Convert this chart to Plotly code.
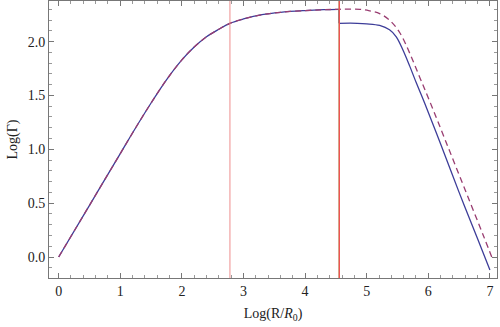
import plotly.graph_objects as go

# shared rising branch (log R/R0 -> log Gamma)
rise_x = [0, 0.5, 1.0, 1.25, 1.5, 1.75, 2.0, 2.2, 2.4, 2.6, 2.78, 3.0, 3.3, 3.6, 4.0, 4.3, 4.55]
rise_y = [0, 0.48, 0.96, 1.2, 1.43, 1.645, 1.83, 1.95, 2.045, 2.115, 2.17, 2.21, 2.25, 2.272, 2.288, 2.296, 2.30]

# solid branch after the step
solid_x = [4.55, 4.85, 5.0, 5.21, 5.37, 5.48, 5.59, 5.70, 5.81, 5.94, 6.2, 6.5, 6.8, 7.0]
solid_y = [2.17, 2.17, 2.165, 2.15, 2.11, 2.045, 1.92, 1.77, 1.61, 1.43, 1.05, 0.6, 0.17, -0.12]

# dashed branch after the step
dash_x = [4.55, 4.89, 5.05, 5.21, 5.37, 5.54, 5.70, 5.86, 6.02, 6.3, 6.6, 6.9, 7.05]
dash_y = [2.30, 2.30, 2.285, 2.26, 2.20, 2.08, 1.89, 1.67, 1.45, 1.05, 0.62, 0.19, -0.03]

# vertical marker lines: (position, colour, width)
markers = [(2.78, "rgba(236,130,130,0.9)", 1), (4.545, "rgba(120,190,80,0.5)", 1), (4.555, "rgb(240,80,80)", 1.4)]

blue = "rgb(61,61,153)"
purple = "rgb(153,61,113)"
font = "Liberation Serif, Times New Roman, serif"

fig = go.Figure()
for xv, col, w in markers:
    fig.add_vline(x=xv, line=dict(color=col, width=w))

# solid curve: rise, step down, fall
fig.add_trace(go.Scatter(x=rise_x, y=rise_y, mode="lines", line_shape="spline",
                         line=dict(color=blue, width=1.3), showlegend=False))
fig.add_trace(go.Scatter(x=[rise_x[-1], solid_x[0]], y=[rise_y[-1], solid_y[0]], mode="lines",
                         line=dict(color=blue, width=1.3), showlegend=False))
fig.add_trace(go.Scatter(x=solid_x, y=solid_y, mode="lines", line_shape="spline",
                         line=dict(color=blue, width=1.3), showlegend=False))
# dashed curve
fig.add_trace(go.Scatter(x=rise_x + dash_x[1:], y=rise_y + dash_y[1:], mode="lines", line_shape="spline",
                         line=dict(color=purple, width=1.3, dash="6px,4px"), showlegend=False))

axis_common = dict(
    showgrid=False, zeroline=False, showline=True, linecolor="#777", linewidth=1,
    mirror="ticks", ticks="inside", ticklen=5, tickcolor="#777", automargin=False,
    tickfont=dict(family=font, size=14, color="#222"),
)

fig.update_layout(
    width=500, height=327,
    margin=dict(l=49, r=3, t=1, b=49),
    plot_bgcolor="white", paper_bgcolor="white",
    font=dict(family=font, size=14, color="#222"),
    xaxis=dict(range=[-0.157, 7.115], dtick=1, tick0=0,
               minor=dict(dtick=0.2, ticklen=3, ticks="inside", tickcolor="#999"),
               title=dict(text="Log(R/<i>R</i><sub>0</sub>)", font=dict(size=14), standoff=10),
               **axis_common),
    yaxis=dict(range=[-0.195, 2.377], dtick=0.5, tick0=0, tickformat=".1f",
               minor=dict(dtick=0.1, ticklen=3, ticks="inside", tickcolor="#999"),
               title=dict(text="Log(Γ)", font=dict(size=14), standoff=6),
               **axis_common),
)

# drop the default page margin so the figure sits at the window origin
fig.write_html("out.html", config={"displayModeBar": False},
               post_script="document.body.style.margin='0';")
